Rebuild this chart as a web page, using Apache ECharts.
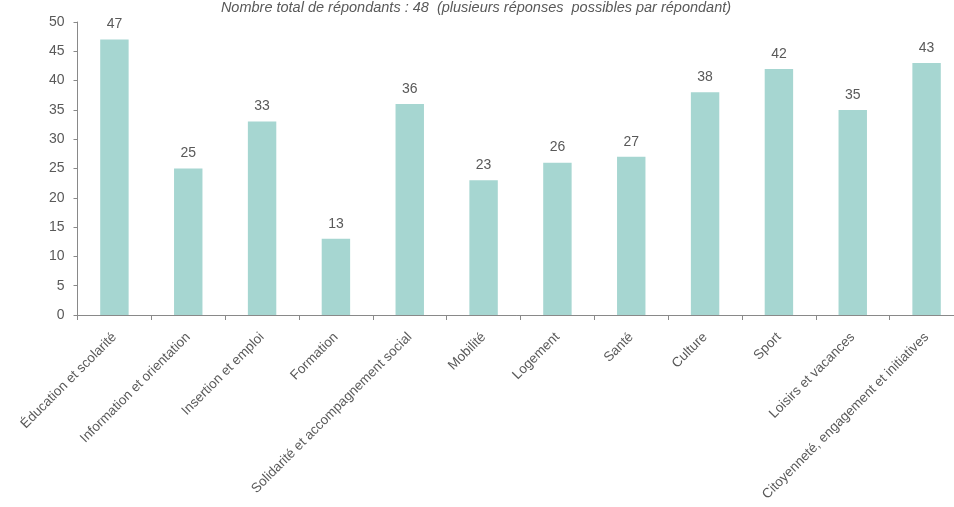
<!DOCTYPE html>
<html><head><meta charset="utf-8">
<style>html,body{margin:0;padding:0;background:#fff}#c{width:954px;height:507px}</style>
<script src="https://cdn.jsdelivr.net/npm/echarts@6/dist/echarts.min.js"></script>
</head><body><div id="c"></div>
<script>
var categories = ["Éducation et scolarité","Information et orientation","Insertion et emploi","Formation","Solidarité et accompagnement social","Mobilité","Logement","Santé","Culture","Sport","Loisirs et vacances","Citoyenneté, engagement et initiatives"];
var values = [47,25,33,13,36,23,26,27,38,42,35,43];
var yTicks = [0,5,10,15,20,25,30,35,40,45,50];
var subtitle = "Nombre total de répondants : 48  (plusieurs réponses  possibles par répondant)";

var chart = echarts.init(document.getElementById('c'));
var font = "'Liberation Sans', Arial, sans-serif";
chart.setOption({
  animation:false,
  title:{text:subtitle,left:471,textAlign:'center',top:-5,textStyle:{fontFamily:font,fontStyle:'italic',fontWeight:'normal',fontSize:14.5,color:'#595959'}},
  grid:{left:77.5,top:22,bottom:192,width:886,outerBoundsMode:'none',containLabel:false},
  xAxis:{type:'category',data:categories,
    axisLine:{lineStyle:{color:'#898989',width:1}},
    axisTick:{show:true,length:5,lineStyle:{color:'#898989'}},
    axisLabel:{rotate:45,interval:0,fontFamily:font,fontSize:13.5,color:'#595959',margin:20}},
  yAxis:{type:'value',min:0,max:50,interval:5,
    axisLine:{show:true,lineStyle:{color:'#898989'}},
    axisTick:{show:true,length:4,lineStyle:{color:'#898989'}},
    splitLine:{show:false},
    axisLabel:{fontFamily:font,fontSize:14,color:'#595959',margin:13,formatter:function(v){return yTicks.indexOf(v)>=0?String(v):'';}}},
  series:[{type:'bar',data:values,barWidth:'38.5%',
    itemStyle:{color:'#a6d6d1'},
    label:{show:true,position:'top',distance:8,fontFamily:font,fontSize:14,color:'#595959'}}]
});
</script></body></html>
